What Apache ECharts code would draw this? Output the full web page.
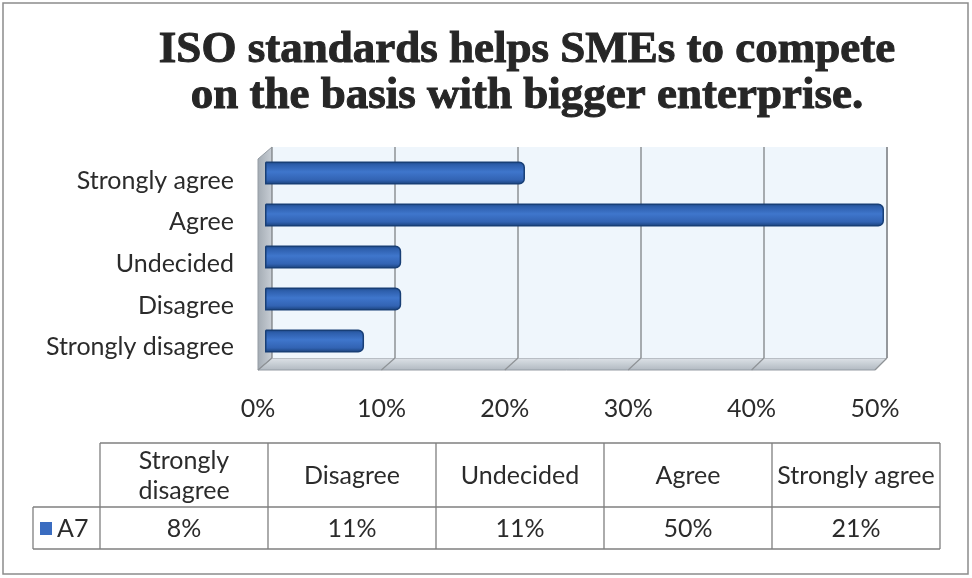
<!DOCTYPE html>
<html>
<head>
<meta charset="utf-8">
<script src="https://cdn.jsdelivr.net/npm/echarts@6/dist/echarts.min.js"></script>
<style>
  html, body { margin: 0; padding: 0; background: #ffffff; }
  #chart { width: 972px; height: 578px; }
</style>
</head>
<body>
<div id="chart"></div>
<script>
// Survey responses, listed bottom-to-top on the category axis (and left-to-right in the table)
var categories = ['Strongly disagree', 'Disagree', 'Undecided', 'Agree', 'Strongly agree'];
var seriesName = 'A7';
var values = [8, 11, 11, 50, 21];           // percent
var xTicks = [0, 10, 20, 30, 40, 50];        // percent tick values
var titleLines = ['ISO standards helps SMEs to compete', 'on the basis with bigger enterprise.'];

var LABEL_FONT = 'Lato, "Noto Sans", sans-serif';
var TEXT_COLOR = '#2b2b2b';

// pseudo-3D box: back wall, bar plane, front plane
var BACK = { left: 272, top: 147, width: 615, height: 211 };
var BARS = { left: 265, top: 152, width: 619, height: 210 };
var FRONT = { left: 258, top: 160, width: 617, height: 208 };
var DY = 12;

var chart = echarts.init(document.getElementById('chart'), null, { renderer: 'canvas' });

var barGradient = new echarts.graphic.LinearGradient(0, 0, 0, 1, [
  { offset: 0, color: '#1c4580' },
  { offset: 0.14, color: '#2d5eab' },
  { offset: 0.45, color: '#3f76cc' },
  { offset: 0.8, color: '#3263b3' },
  { offset: 1, color: '#183f76' }
]);

var option = {
  backgroundColor: '#ffffff',
  animation: false,
  title: {
    text: titleLines.join('\n'),
    left: 522, top: 22, textAlign: 'center',
    textStyle: {
      fontFamily: '"Liberation Serif", "DejaVu Serif", serif',
      fontWeight: 'bold', fontSize: 45, lineHeight: 46, color: '#262626',
      textBorderColor: '#262626', textBorderWidth: 1
    }
  },
  grid: [
    { left: BACK.left, top: BACK.top, width: BACK.width, height: BACK.height,
      show: true, backgroundColor: '#eff6fc', borderWidth: 0 },
    { left: BARS.left, top: BARS.top, width: BARS.width, height: BARS.height },
    { left: FRONT.left, top: FRONT.top, width: FRONT.width, height: FRONT.height }
  ],
  xAxis: [
    { gridIndex: 0, type: 'value', min: 0, max: 50, interval: 10,
      axisLine: { show: false }, axisTick: { show: false }, axisLabel: { show: false },
      splitLine: { show: true, lineStyle: { color: '#8e9296', width: 1.5 } } },
    { gridIndex: 1, type: 'value', min: 0, max: 50, interval: 10, show: false },
    { gridIndex: 2, type: 'value', min: 0, max: 50, interval: 10,
      axisLine: { show: false }, axisTick: { show: false }, splitLine: { show: false },
      axisLabel: { formatter: '{value}%', margin: 28, fontFamily: LABEL_FONT, fontSize: 25, color: TEXT_COLOR } }
  ],
  yAxis: [
    { gridIndex: 0, type: 'category', data: categories, show: false },
    { gridIndex: 1, type: 'category', data: categories, show: false },
    { gridIndex: 2, type: 'category', data: categories,
      axisLine: { show: false }, axisTick: { show: false },
      axisLabel: { margin: 24, fontFamily: LABEL_FONT, fontSize: 25, color: TEXT_COLOR } }
  ],
  series: [{
    name: seriesName, type: 'bar', xAxisIndex: 1, yAxisIndex: 1,
    data: values, barWidth: 23,
    itemStyle: { color: barGradient, borderColor: '#183f76', borderWidth: 1.5, borderRadius: [0, 5, 5, 0] }
  }]
};
chart.setOption(option);

// walls, floor and table are drawn once the axes are laid out
function px(xAxisIndex, v) { return chart.convertToPixel({ xAxisIndex: xAxisIndex }, v); }

var g = [];
var backBottom = BACK.top + BACK.height, frontBottom = backBottom + DY;
var back0 = px(0, 0), back50 = px(0, 50), front0 = px(2, 0), front50 = px(2, 50);

// left side wall
g.push({ type: 'polygon', z: -1, shape: { points: [[front0, BACK.top + DY], [back0, BACK.top], [back0, backBottom], [front0, frontBottom]] },
  style: { fill: new echarts.graphic.LinearGradient(0, 0, 1, 0, [{ offset: 0, color: '#a3abb3' }, { offset: 1, color: '#c9cfd6' }]), stroke: '#959ca4', lineWidth: 1 } });
// floor
g.push({ type: 'polygon', z: -1, shape: { points: [[back0, backBottom], [back50, backBottom], [front50, frontBottom], [front0, frontBottom]] },
  style: { fill: new echarts.graphic.LinearGradient(0, 0, 0, 1, [{ offset: 0, color: '#dfe4e9' }, { offset: 1, color: '#b0b8c0' }]), stroke: '#959ca4', lineWidth: 1 } });
// gridlines running across the floor
xTicks.forEach(function (t) {
  g.push({ type: 'line', z: 0, shape: { x1: px(0, t), y1: backBottom, x2: px(2, t), y2: frontBottom },
    style: { stroke: '#8e9296', lineWidth: 1.2 } });
});
// right edge of the back wall
g.push({ type: 'line', shape: { x1: back50, y1: BACK.top, x2: back50, y2: backBottom }, style: { stroke: '#8e9296', lineWidth: 1.5 } });

// data table
var TABLE = { left: 100, right: 940, legendLeft: 33, top: 443, mid: 507, bottom: 549 };
var colW = (TABLE.right - TABLE.left) / categories.length;
var lineStyle = { stroke: '#7f7f7f', lineWidth: 1.3 };
function hline(x1, x2, y) { g.push({ type: 'line', shape: { x1: x1, y1: y, x2: x2, y2: y }, style: lineStyle }); }
function vline(x, y1, y2) { g.push({ type: 'line', shape: { x1: x, y1: y1, x2: x, y2: y2 }, style: lineStyle }); }
hline(TABLE.left, TABLE.right, TABLE.top);
hline(TABLE.legendLeft, TABLE.right, TABLE.mid);
hline(TABLE.legendLeft, TABLE.right, TABLE.bottom);
vline(TABLE.legendLeft, TABLE.mid, TABLE.bottom);
for (var i = 0; i <= categories.length; i++) vline(TABLE.left + i * colW, TABLE.top, TABLE.bottom);

var headerText = ['Strongly\ndisagree', 'Disagree', 'Undecided', 'Agree', 'Strongly agree'];
categories.forEach(function (c, i) {
  var cx = TABLE.left + (i + 0.5) * colW;
  g.push({ type: 'text', x: cx, y: (TABLE.top + TABLE.mid) / 2 + 1,
    style: { text: headerText[i], fill: TEXT_COLOR, font: '25px ' + LABEL_FONT, lineHeight: 30, align: 'center', verticalAlign: 'middle' } });
  g.push({ type: 'text', x: cx, y: (TABLE.mid + TABLE.bottom) / 2 + 1,
    style: { text: values[i] + '%', fill: TEXT_COLOR, font: '25px ' + LABEL_FONT, align: 'center', verticalAlign: 'middle' } });
});
// legend key in the table
g.push({ type: 'rect', shape: { x: 40, y: 522, width: 12, height: 13 }, style: { fill: '#3a6cc0' } });
g.push({ type: 'text', x: 57, y: (TABLE.mid + TABLE.bottom) / 2 + 1,
  style: { text: seriesName, fill: TEXT_COLOR, font: '25px ' + LABEL_FONT, align: 'left', verticalAlign: 'middle' } });

// outer chart border
g.push({ type: 'rect', shape: { x: 3, y: 3, width: 965, height: 571 }, style: { fill: null, stroke: '#8c8c8c', lineWidth: 1.5 } });

chart.setOption({ graphic: g });
</script>
</body>
</html>
